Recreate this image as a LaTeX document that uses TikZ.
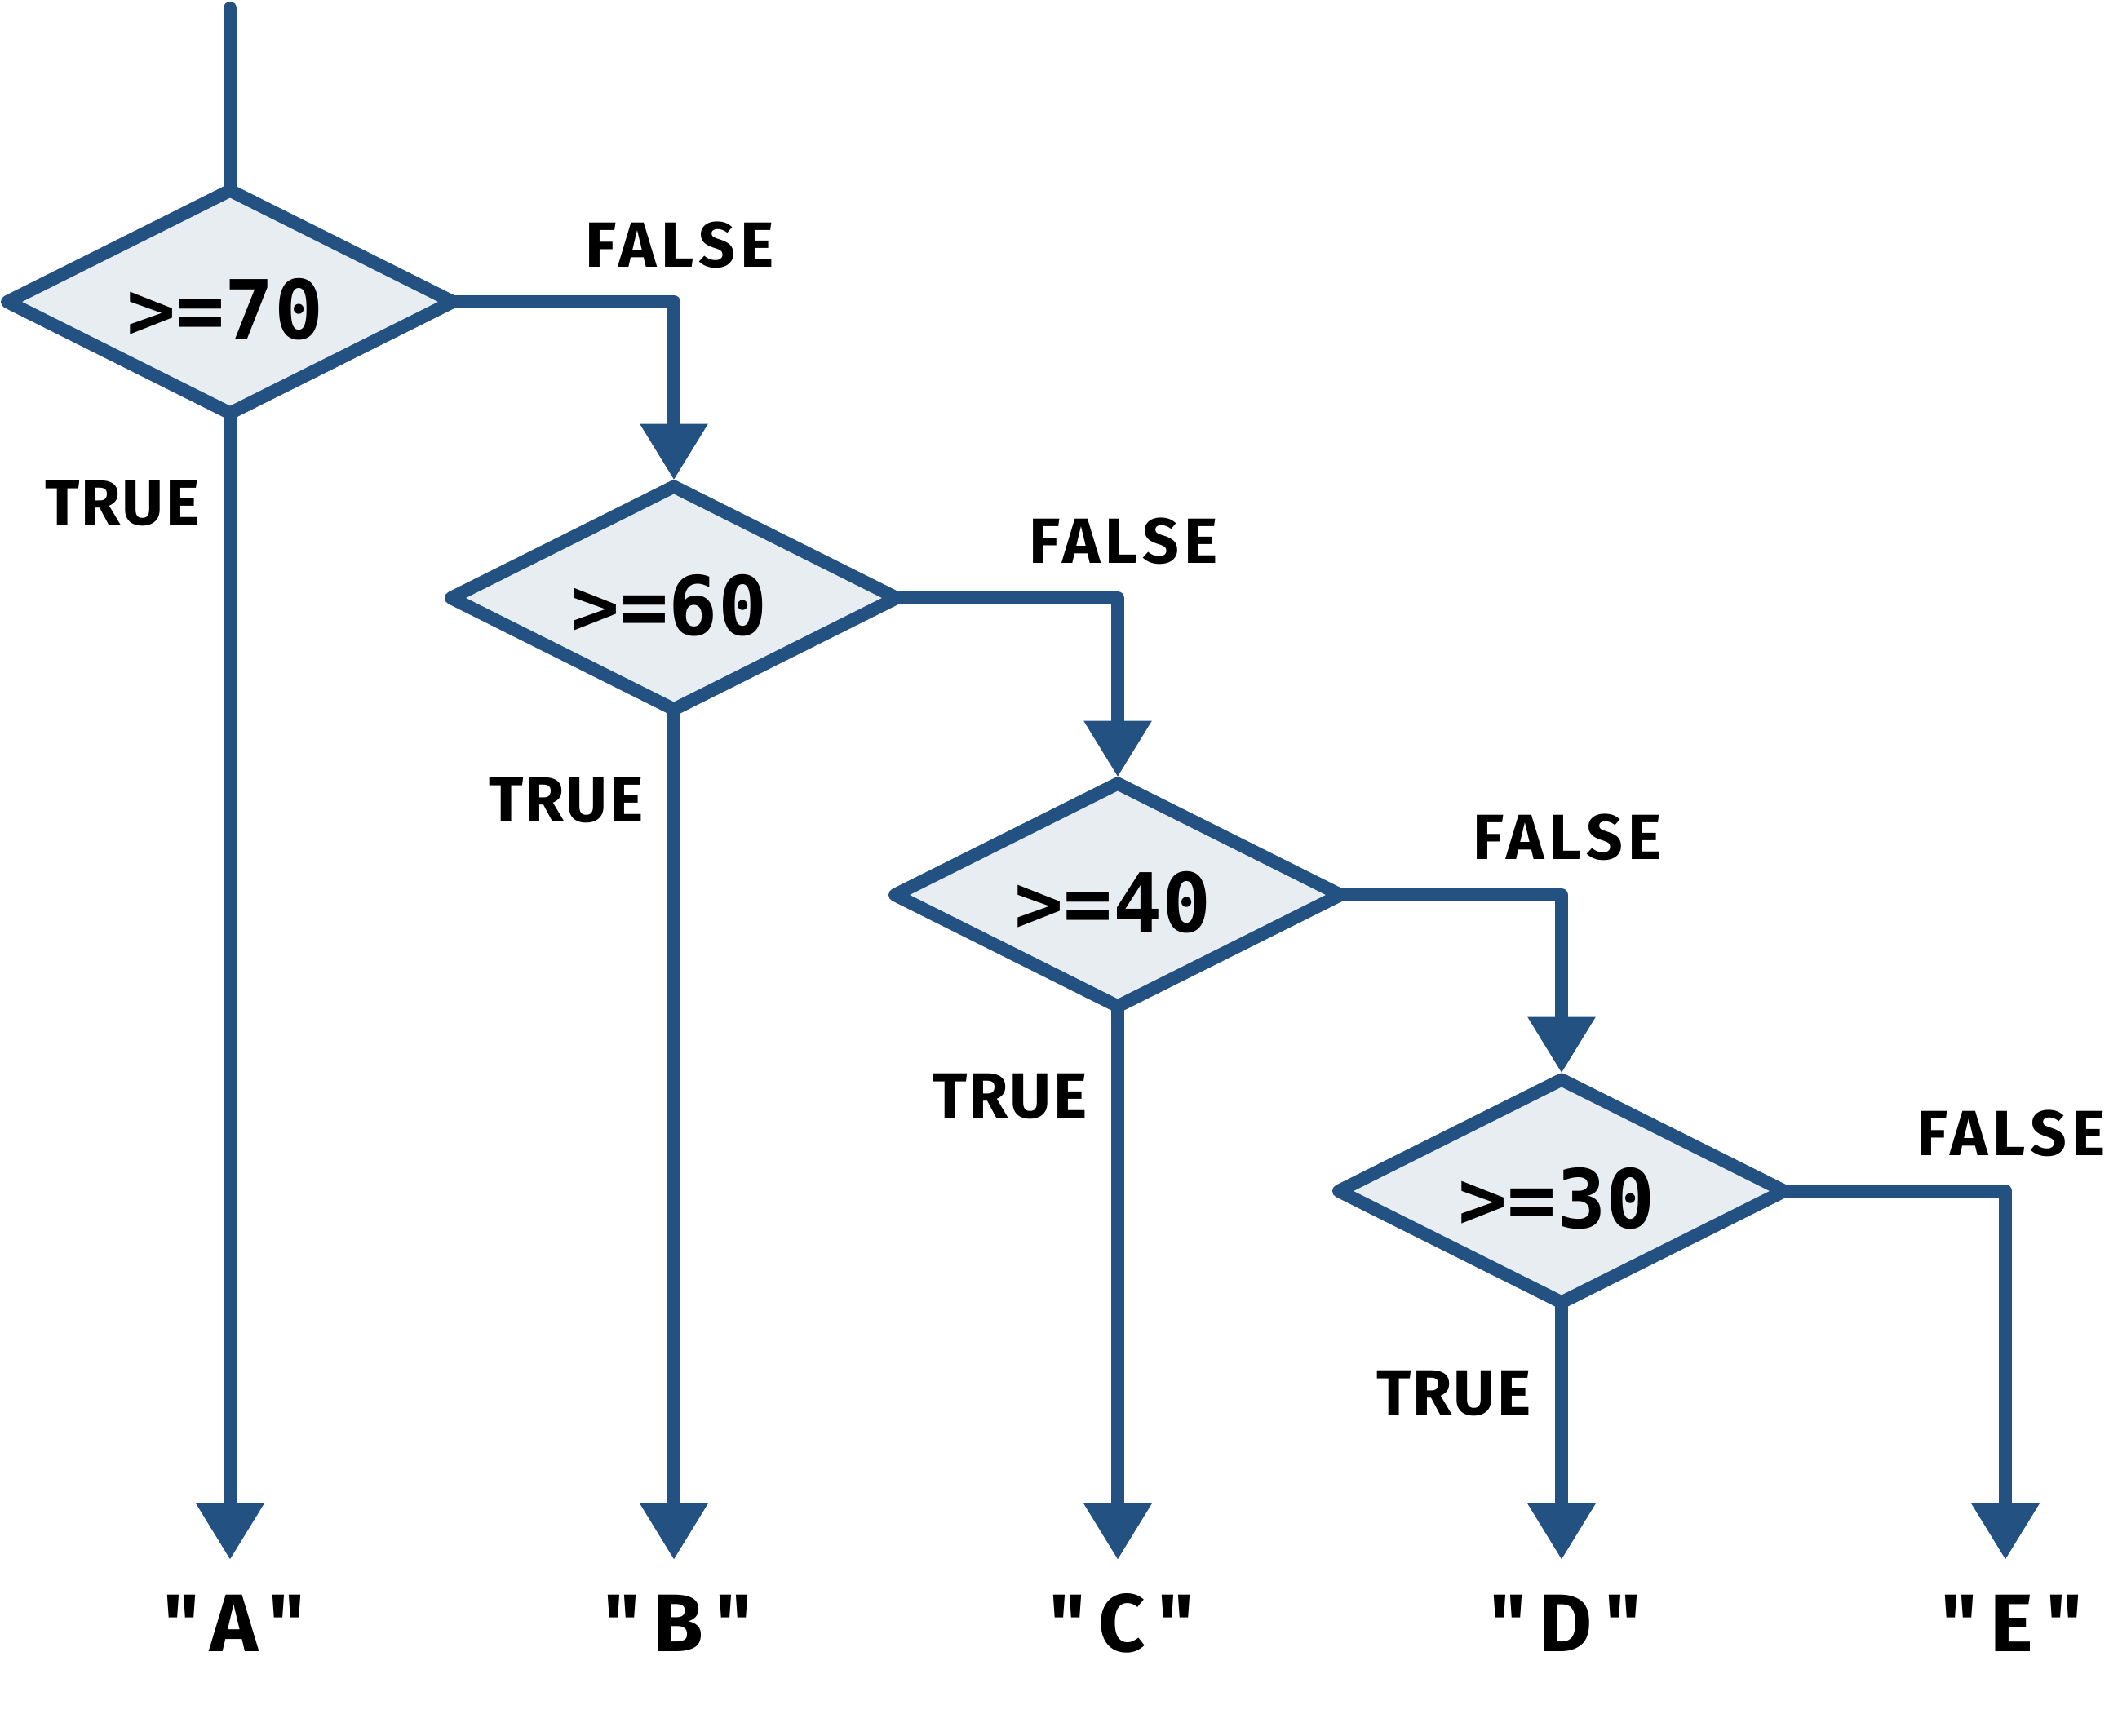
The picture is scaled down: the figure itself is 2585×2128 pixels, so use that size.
\documentclass[tikz,border=0pt]{standalone}
\usepackage{fontspec}
\setmainfont{Fira Sans}
\newfontfamily\monof{DejaVu Sans Mono}
\newfontfamily\labf[LetterSpace=8]{Fira Sans}
\newfontfamily\truef[LetterSpace=3]{Fira Sans}
\newfontfamily\resf[LetterSpace=16]{Fira Sans}
\usetikzlibrary{shapes.geometric,arrows.meta}
\definecolor{edgecol}{HTML}{235282}
\definecolor{dfill}{HTML}{E8EDF2}
\newcommand{\dtext}[1]{\kern-3.6pt#1}
\begin{document}
\begin{tikzpicture}[x=0.3pt,y=-0.3pt,
  dec/.style={shape=diamond, draw=edgecol, fill=dfill, line width=4.8pt, aspect=2.08,
    minimum width=163.8pt, minimum height=81.9pt, inner sep=0pt, outer sep=0pt,
    line join=round, text height=27pt, text depth=0pt,
    font=\monof\bfseries\fontsize{30}{36}\selectfont},
  conn/.style={draw=edgecol, line width=4.8pt, line join=round},
  arr/.style={conn, -{Triangle[length=20.7pt,width=23.7pt]}},
  arrin/.style={arr, shorten >=2.4pt},
  branch/.style={font=\labf\bfseries\fontsize{23.5}{28}\selectfont, inner sep=0pt},
  truelab/.style={font=\truef\bfseries\fontsize{23.5}{28}\selectfont, inner sep=0pt, anchor=east},
  result/.style={font=\resf\bfseries\fontsize{30}{36}\selectfont, inner sep=0pt}
]
\useasboundingbox (0,0) rectangle (2585,2128);

\coordinate (start) at (282,10);
\coordinate (tA) at (282,1912);
\coordinate (tB) at (826,1912);
\coordinate (tC) at (1370,1912);
\coordinate (tD) at (1914,1912);
\coordinate (tE) at (2458,1912);

% connectors first so that the diamonds sit on top of line ends
\path (282,370) coordinate (c1) (826,733) coordinate (c2)
      (1370,1097) coordinate (c3) (1914,1460) coordinate (c4);

\node[dec] (d1) at (c1) {\dtext{>=70}};
\node[dec] (d2) at (c2) {\dtext{>=60}};
\node[dec] (d3) at (c3) {\dtext{>=40}};
\node[dec] (d4) at (c4) {\dtext{>=30}};

\draw[conn, line cap=round] (start) -- (d1.north);

\draw[arrin] (d1.east) -| (d2.north);
\draw[arrin] (d2.east) -| (d3.north);
\draw[arrin] (d3.east) -| (d4.north);
\draw[arr] (d4.east) -| (tE);

\draw[arr] (d1.south) -- (tA);
\draw[arr] (d2.south) -- (tB);
\draw[arr] (d3.south) -- (tC);
\draw[arr] (d4.south) -- (tD);

\node[branch] (f1) at (833,300) {FALSE};
\node[branch] (f2) at (1377,663) {FALSE};
\node[branch] (f3) at (1921,1026) {FALSE};
\node[branch] (f4) at (2465,1389) {FALSE};

\node[truelab] (t1) at (245,617) {TRUE};
\node[truelab] (t2) at (789,981) {TRUE};
\node[truelab] (t3) at (1333,1344) {TRUE};
\node[truelab] (t4) at (1877,1708) {TRUE};

\node[result] (rA) at (287,1990) {"A"};
\node[result] (rB) at (831,1990) {"B"};
\node[result] (rC) at (1375,1990) {"C"};
\node[result] (rD) at (1919,1990) {"D"};
\node[result] (rE) at (2466,1990) {"E"};
\end{tikzpicture}
\end{document}
